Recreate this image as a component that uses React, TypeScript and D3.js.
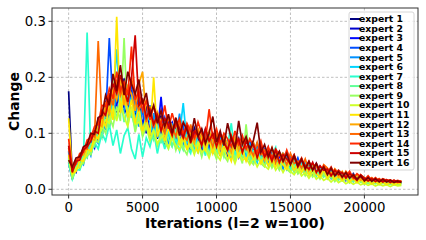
import * as d3 from "d3";

// logged every 250 iterations
const ITERATIONS = [
  0, 250, 500, 750, 1000, 1250, 1500, 1750, 2000, 2250,
  2500, 2750, 3000, 3250, 3500, 3750, 4000, 4250, 4500, 4750,
  5000, 5250, 5500, 5750, 6000, 6250, 6500, 6750, 7000, 7250,
  7500, 7750, 8000, 8250, 8500, 8750, 9000, 9250, 9500, 9750,
  10000, 10250, 10500, 10750, 11000, 11250, 11500, 11750, 12000, 12250,
  12500, 12750, 13000, 13250, 13500, 13750, 14000, 14250, 14500, 14750,
  15000, 15250, 15500, 15750, 16000, 16250, 16500, 16750, 17000, 17250,
  17500, 17750, 18000, 18250, 18500, 18750, 19000, 19250, 19500, 19750,
  20000, 20250, 20500, 20750, 21000, 21250, 21500, 21750, 22000, 22250, 22500,
];

const EXPERT_1 = [
  0.175, 0.022, 0.048, 0.038, 0.072, 0.058, 0.094, 0.078, 0.128, 0.092,
  0.158, 0.112, 0.185, 0.14, 0.15, 0.198, 0.142, 0.175, 0.128, 0.168,
  0.108, 0.148, 0.098, 0.128, 0.09, 0.132, 0.08, 0.118, 0.112, 0.076,
  0.114, 0.082, 0.104, 0.07, 0.11, 0.094, 0.066, 0.108, 0.078, 0.1,
  0.064, 0.096, 0.082, 0.058, 0.094, 0.07, 0.09, 0.056, 0.086, 0.074,
  0.052, 0.08, 0.06, 0.048, 0.072, 0.05, 0.066, 0.04, 0.064, 0.058,
  0.036, 0.06, 0.04, 0.054, 0.03, 0.048, 0.034, 0.044, 0.026, 0.04,
  0.024, 0.036, 0.02, 0.032, 0.022, 0.03, 0.016, 0.028, 0.018, 0.024,
  0.013, 0.021, 0.012, 0.018, 0.011, 0.017, 0.01, 0.016, 0.009, 0.014, 0.011,
];
const EXPERT_2 = [
  0.056, 0.036, 0.03, 0.058, 0.048, 0.082, 0.068, 0.1, 0.088, 0.142,
  0.118, 0.168, 0.138, 0.15, 0.192, 0.146, 0.13, 0.178, 0.12, 0.15,
  0.142, 0.1, 0.135, 0.094, 0.126, 0.118, 0.084, 0.122, 0.09, 0.116,
  0.08, 0.108, 0.098, 0.07, 0.104, 0.076, 0.102, 0.09, 0.064, 0.098,
  0.084, 0.06, 0.092, 0.078, 0.056, 0.09, 0.062, 0.086, 0.072, 0.052,
  0.082, 0.058, 0.07, 0.044, 0.074, 0.052, 0.064, 0.046, 0.06, 0.038,
  0.056, 0.042, 0.03, 0.052, 0.038, 0.046, 0.026, 0.044, 0.03, 0.038,
  0.034, 0.02, 0.034, 0.024, 0.03, 0.016, 0.028, 0.02, 0.024, 0.014,
  0.02, 0.014, 0.019, 0.012, 0.018, 0.011, 0.016, 0.012, 0.014, 0.01, 0.013,
];
const EXPERT_3 = [
  0.048, 0.018, 0.046, 0.042, 0.066, 0.062, 0.088, 0.074, 0.118, 0.104,
  0.152, 0.124, 0.176, 0.148, 0.138, 0.185, 0.158, 0.132, 0.17, 0.118,
  0.12, 0.14, 0.096, 0.13, 0.1, 0.165, 0.092, 0.112, 0.12, 0.082,
  0.11, 0.086, 0.112, 0.076, 0.098, 0.106, 0.07, 0.1, 0.088, 0.064,
  0.096, 0.07, 0.088, 0.064, 0.09, 0.08, 0.058, 0.088, 0.062, 0.08,
  0.07, 0.05, 0.076, 0.056, 0.044, 0.07, 0.048, 0.06, 0.04, 0.062,
  0.046, 0.034, 0.054, 0.036, 0.048, 0.028, 0.046, 0.03, 0.04, 0.024,
  0.036, 0.026, 0.022, 0.032, 0.018, 0.03, 0.02, 0.026, 0.014, 0.024,
  0.015, 0.02, 0.011, 0.019, 0.012, 0.017, 0.01, 0.016, 0.011, 0.014, 0.012,
];
const EXPERT_4 = [
  0.066, 0.028, 0.042, 0.06, 0.054, 0.08, 0.074, 0.104, 0.096, 0.134,
  0.124, 0.27, 0.15, 0.194, 0.142, 0.178, 0.15, 0.19, 0.136, 0.162,
  0.138, 0.112, 0.15, 0.104, 0.124, 0.096, 0.128, 0.108, 0.092, 0.124,
  0.1, 0.114, 0.078, 0.106, 0.094, 0.072, 0.108, 0.084, 0.098, 0.07,
  0.1, 0.076, 0.09, 0.062, 0.094, 0.084, 0.06, 0.092, 0.066, 0.086,
  0.06, 0.084, 0.056, 0.072, 0.05, 0.07, 0.046, 0.066, 0.054, 0.042,
  0.062, 0.04, 0.056, 0.034, 0.05, 0.038, 0.028, 0.046, 0.032, 0.04,
  0.026, 0.038, 0.022, 0.034, 0.028, 0.018, 0.03, 0.016, 0.026, 0.02,
  0.019, 0.014, 0.02, 0.013, 0.018, 0.012, 0.017, 0.011, 0.015, 0.012, 0.013,
];
const EXPERT_5 = [
  0.068, 0.026, 0.038, 0.052, 0.044, 0.076, 0.06, 0.092, 0.082, 0.124,
  0.106, 0.158, 0.126, 0.172, 0.15, 0.138, 0.182, 0.128, 0.16, 0.112,
  0.148, 0.118, 0.1, 0.136, 0.092, 0.12, 0.11, 0.08, 0.118, 0.094,
  0.135, 0.08, 0.096, 0.106, 0.072, 0.1, 0.08, 0.096, 0.066, 0.09,
  0.074, 0.092, 0.06, 0.086, 0.07, 0.09, 0.056, 0.082, 0.06, 0.076,
  0.05, 0.074, 0.062, 0.046, 0.068, 0.044, 0.064, 0.05, 0.036, 0.058,
  0.042, 0.054, 0.032, 0.05, 0.036, 0.028, 0.044, 0.026, 0.038, 0.03,
  0.022, 0.034, 0.026, 0.018, 0.03, 0.02, 0.026, 0.014, 0.022, 0.016,
  0.019, 0.012, 0.017, 0.013, 0.016, 0.011, 0.015, 0.01, 0.014, 0.011, 0.012,
];
const EXPERT_6 = [
  0.054, 0.03, 0.036, 0.054, 0.058, 0.066, 0.09, 0.082, 0.1, 0.116,
  0.14, 0.118, 0.162, 0.25, 0.14, 0.17, 0.132, 0.166, 0.124, 0.15,
  0.106, 0.132, 0.122, 0.094, 0.128, 0.09, 0.118, 0.096, 0.112, 0.078,
  0.098, 0.154, 0.082, 0.1, 0.068, 0.096, 0.088, 0.066, 0.098, 0.072,
  0.09, 0.06, 0.086, 0.074, 0.056, 0.088, 0.064, 0.078, 0.054, 0.08,
  0.064, 0.048, 0.072, 0.054, 0.06, 0.042, 0.066, 0.044, 0.056, 0.036,
  0.054, 0.038, 0.046, 0.03, 0.048, 0.032, 0.042, 0.024, 0.04, 0.028,
  0.034, 0.02, 0.03, 0.024, 0.018, 0.028, 0.016, 0.026, 0.02, 0.015,
  0.018, 0.013, 0.017, 0.011, 0.016, 0.012, 0.014, 0.01, 0.013, 0.011, 0.012,
];
const EXPERT_7 = [
  0.046, 0.018, 0.036, 0.034, 0.052, 0.28, 0.062, 0.084, 0.072, 0.1,
  0.086, 0.116, 0.078, 0.106, 0.064, 0.096, 0.11, 0.072, 0.054, 0.098,
  0.058, 0.092, 0.076, 0.104, 0.064, 0.096, 0.072, 0.106, 0.078, 0.09,
  0.068, 0.098, 0.076, 0.064, 0.094, 0.07, 0.086, 0.06, 0.092, 0.072,
  0.058, 0.086, 0.066, 0.078, 0.118, 0.06, 0.08, 0.056, 0.074, 0.062,
  0.048, 0.07, 0.054, 0.06, 0.042, 0.062, 0.075, 0.04, 0.054, 0.046,
  0.036, 0.05, 0.034, 0.044, 0.028, 0.04, 0.03, 0.034, 0.022, 0.034,
  0.024, 0.028, 0.018, 0.026, 0.02, 0.022, 0.014, 0.024, 0.016, 0.018,
  0.012, 0.017, 0.012, 0.015, 0.01, 0.015, 0.011, 0.013, 0.01, 0.012, 0.011,
];
const EXPERT_8 = [
  0.06, 0.024, 0.042, 0.04, 0.062, 0.056, 0.082, 0.076, 0.108, 0.092,
  0.138, 0.11, 0.15, 0.128, 0.164, 0.12, 0.146, 0.134, 0.11, 0.14,
  0.096, 0.118, 0.104, 0.088, 0.114, 0.082, 0.108, 0.09, 0.076, 0.104,
  0.084, 0.07, 0.098, 0.074, 0.09, 0.064, 0.094, 0.076, 0.062, 0.088,
  0.066, 0.082, 0.058, 0.08, 0.066, 0.052, 0.078, 0.06, 0.07, 0.05,
  0.068, 0.052, 0.058, 0.042, 0.062, 0.046, 0.05, 0.036, 0.056, 0.04,
  0.044, 0.03, 0.046, 0.032, 0.036, 0.026, 0.04, 0.024, 0.032, 0.022,
  0.03, 0.02, 0.024, 0.016, 0.026, 0.018, 0.02, 0.014, 0.022, 0.013,
  0.016, 0.011, 0.016, 0.01, 0.014, 0.011, 0.013, 0.009, 0.012, 0.01, 0.011,
];
const EXPERT_9 = [
  0.052, 0.02, 0.034, 0.046, 0.046, 0.068, 0.062, 0.088, 0.084, 0.114,
  0.1, 0.13, 0.112, 0.148, 0.122, 0.27, 0.116, 0.144, 0.102, 0.13,
  0.094, 0.112, 0.086, 0.104, 0.078, 0.098, 0.084, 0.072, 0.098, 0.07,
  0.092, 0.074, 0.062, 0.088, 0.066, 0.082, 0.058, 0.084, 0.064, 0.072,
  0.054, 0.078, 0.06, 0.05, 0.074, 0.056, 0.066, 0.046, 0.116, 0.052,
  0.044, 0.062, 0.046, 0.04, 0.056, 0.038, 0.05, 0.034, 0.048, 0.036,
  0.03, 0.044, 0.028, 0.038, 0.024, 0.034, 0.022, 0.03, 0.018, 0.028,
  0.018, 0.024, 0.014, 0.022, 0.015, 0.018, 0.011, 0.018, 0.012, 0.014,
  0.009, 0.013, 0.009, 0.012, 0.008, 0.011, 0.008, 0.01, 0.008, 0.009, 0.008,
];
const EXPERT_10 = [
  0.058, 0.026, 0.038, 0.038, 0.056, 0.06, 0.072, 0.084, 0.094, 0.108,
  0.124, 0.118, 0.146, 0.122, 0.158, 0.13, 0.112, 0.148, 0.116, 0.12,
  0.1, 0.114, 0.09, 0.106, 0.082, 0.092, 0.098, 0.074, 0.092, 0.078,
  0.07, 0.09, 0.072, 0.08, 0.062, 0.084, 0.066, 0.072, 0.056, 0.078,
  0.062, 0.052, 0.072, 0.054, 0.064, 0.046, 0.066, 0.052, 0.056, 0.044,
  0.056, 0.04, 0.052, 0.042, 0.036, 0.05, 0.034, 0.044, 0.03, 0.042,
  0.032, 0.026, 0.036, 0.024, 0.03, 0.02, 0.03, 0.018, 0.024, 0.016,
  0.02, 0.013, 0.02, 0.012, 0.016, 0.01, 0.014, 0.009, 0.013, 0.008,
  0.011, 0.007, 0.01, 0.006, 0.009, 0.006, 0.008, 0.005, 0.008, 0.006, 0.007,
];
const EXPERT_11 = [
  0.127, 0.028, 0.032, 0.052, 0.05, 0.072, 0.068, 0.096, 0.09, 0.126,
  0.112, 0.15, 0.124, 0.308, 0.136, 0.172, 0.128, 0.16, 0.118, 0.146,
  0.104, 0.128, 0.096, 0.2, 0.094, 0.116, 0.086, 0.11, 0.09, 0.127,
  0.078, 0.1, 0.07, 0.094, 0.08, 0.066, 0.096, 0.07, 0.088, 0.064,
  0.084, 0.06, 0.078, 0.066, 0.05, 0.08, 0.058, 0.072, 0.05, 0.07,
  0.054, 0.066, 0.046, 0.06, 0.042, 0.058, 0.04, 0.052, 0.044, 0.036,
  0.052, 0.034, 0.044, 0.03, 0.042, 0.026, 0.036, 0.028, 0.022, 0.034,
  0.02, 0.03, 0.018, 0.024, 0.016, 0.022, 0.014, 0.02, 0.012, 0.018,
  0.011, 0.016, 0.01, 0.014, 0.01, 0.013, 0.009, 0.012, 0.009, 0.011, 0.01,
];
const EXPERT_12 = [
  0.062, 0.034, 0.046, 0.058, 0.062, 0.076, 0.09, 0.088, 0.118, 0.112,
  0.152, 0.136, 0.178, 0.16, 0.196, 0.15, 0.184, 0.17, 0.14, 0.188,
  0.21, 0.124, 0.148, 0.112, 0.138, 0.12, 0.104, 0.132, 0.098, 0.122,
  0.116, 0.09, 0.112, 0.098, 0.082, 0.108, 0.094, 0.078, 0.104, 0.086,
  0.098, 0.072, 0.094, 0.082, 0.066, 0.092, 0.07, 0.088, 0.076, 0.062,
  0.084, 0.06, 0.074, 0.052, 0.072, 0.054, 0.066, 0.046, 0.064, 0.052,
  0.044, 0.06, 0.04, 0.054, 0.034, 0.048, 0.036, 0.044, 0.028, 0.04,
  0.034, 0.024, 0.036, 0.022, 0.032, 0.02, 0.028, 0.018, 0.026, 0.016,
  0.021, 0.015, 0.02, 0.014, 0.018, 0.013, 0.017, 0.012, 0.015, 0.013, 0.014,
];
const EXPERT_13 = [
  0.074, 0.032, 0.052, 0.056, 0.074, 0.072, 0.098, 0.094, 0.265, 0.126,
  0.14, 0.172, 0.15, 0.196, 0.168, 0.186, 0.15, 0.2, 0.158, 0.142,
  0.156, 0.12, 0.146, 0.11, 0.134, 0.116, 0.1, 0.128, 0.112, 0.094,
  0.122, 0.096, 0.088, 0.116, 0.09, 0.104, 0.08, 0.106, 0.094, 0.076,
  0.1, 0.082, 0.092, 0.07, 0.096, 0.074, 0.088, 0.066, 0.09, 0.072,
  0.06, 0.084, 0.062, 0.07, 0.054, 0.074, 0.048, 0.066, 0.058, 0.044,
  0.064, 0.046, 0.05, 0.038, 0.054, 0.034, 0.046, 0.04, 0.03, 0.044,
  0.038, 0.026, 0.036, 0.03, 0.02, 0.032, 0.024, 0.026, 0.018, 0.026,
  0.02, 0.016, 0.021, 0.014, 0.019, 0.014, 0.017, 0.013, 0.016, 0.012, 0.015,
];
const EXPERT_14 = [
  0.09, 0.036, 0.046, 0.064, 0.066, 0.088, 0.092, 0.112, 0.116, 0.15,
  0.148, 0.18, 0.162, 0.21, 0.176, 0.192, 0.168, 0.255, 0.16, 0.176,
  0.14, 0.158, 0.124, 0.148, 0.13, 0.116, 0.15, 0.108, 0.136, 0.112,
  0.126, 0.098, 0.118, 0.104, 0.092, 0.12, 0.1, 0.086, 0.143, 0.09,
  0.108, 0.082, 0.1, 0.09, 0.076, 0.104, 0.08, 0.096, 0.072, 0.09,
  0.078, 0.066, 0.086, 0.06, 0.076, 0.056, 0.072, 0.062, 0.05, 0.07,
  0.052, 0.062, 0.044, 0.056, 0.04, 0.05, 0.036, 0.046, 0.032, 0.042,
  0.03, 0.04, 0.026, 0.034, 0.028, 0.024, 0.032, 0.02, 0.028, 0.022,
  0.017, 0.024, 0.016, 0.021, 0.015, 0.019, 0.016, 0.017, 0.014, 0.016, 0.014,
];
const EXPERT_15 = [
  0.078, 0.03, 0.05, 0.052, 0.07, 0.076, 0.086, 0.104, 0.1, 0.14,
  0.132, 0.164, 0.188, 0.172, 0.204, 0.178, 0.156, 0.198, 0.275, 0.15,
  0.16, 0.128, 0.142, 0.116, 0.132, 0.104, 0.126, 0.114, 0.096, 0.124,
  0.108, 0.092, 0.114, 0.082, 0.104, 0.096, 0.078, 0.108, 0.086, 0.1,
  0.076, 0.098, 0.084, 0.07, 0.094, 0.078, 0.09, 0.066, 0.086, 0.074,
  0.08, 0.056, 0.076, 0.058, 0.068, 0.05, 0.07, 0.048, 0.062, 0.054,
  0.046, 0.058, 0.04, 0.052, 0.042, 0.036, 0.048, 0.03, 0.042, 0.034,
  0.036, 0.024, 0.034, 0.026, 0.03, 0.02, 0.028, 0.022, 0.016, 0.026,
  0.02, 0.015, 0.019, 0.014, 0.018, 0.013, 0.017, 0.012, 0.016, 0.013, 0.014,
];
const EXPERT_16 = [
  0.052, 0.04, 0.056, 0.058, 0.076, 0.08, 0.1, 0.098, 0.128, 0.132,
  0.168, 0.15, 0.206, 0.176, 0.222, 0.168, 0.21, 0.188, 0.17, 0.196,
  0.152, 0.172, 0.13, 0.15, 0.118, 0.14, 0.112, 0.134, 0.1, 0.128,
  0.096, 0.12, 0.106, 0.088, 0.127, 0.094, 0.108, 0.082, 0.1, 0.13,
  0.084, 0.104, 0.078, 0.118, 0.09, 0.072, 0.122, 0.08, 0.094, 0.07,
  0.088, 0.119, 0.066, 0.08, 0.058, 0.074, 0.056, 0.068, 0.05, 0.064,
  0.044, 0.06, 0.042, 0.054, 0.036, 0.05, 0.034, 0.046, 0.03, 0.04,
  0.026, 0.038, 0.024, 0.032, 0.022, 0.03, 0.02, 0.026, 0.018, 0.024,
  0.015, 0.021, 0.014, 0.019, 0.013, 0.018, 0.013, 0.016, 0.012, 0.015, 0.012,
];

const SERIES = [
  EXPERT_1, EXPERT_2, EXPERT_3, EXPERT_4, EXPERT_5, EXPERT_6, EXPERT_7, EXPERT_8,
  EXPERT_9, EXPERT_10, EXPERT_11, EXPERT_12, EXPERT_13, EXPERT_14, EXPERT_15, EXPERT_16,
];
const LABELS = SERIES.map((_, i) => `expert ${i + 1}`);
// jet colormap sampled at i/15
const COLORS = [
  "#000080", "#0000cd", "#0008ff", "#004dff", "#0091ff", "#00d4ff", "#29ffce", "#60ff97",
  "#97ff60", "#ceff29", "#ffe600", "#ffa700", "#ff6800", "#ff2900", "#cd0000", "#800000",
];
const X_TICKS = [0, 5000, 10000, 15000, 20000];
const Y_TICKS = [0.0, 0.1, 0.2, 0.3];

const W = 426;
const H = 240;
const PLOT = { left: 52, right: 418, top: 8, bottom: 195 };
const FONT = "DejaVu Sans, sans-serif";

export default function App() {
  const x = d3.scaleLinear().domain([-1125, 23625]).range([PLOT.left, PLOT.right]);
  const y = d3.scaleLinear().domain([-0.0102, 0.3238]).range([PLOT.bottom, PLOT.top]);
  const line = d3
    .line<number>()
    .defined((_, i) => i < ITERATIONS.length)
    .x((_, i) => x(ITERATIONS[i]))
    .y((d) => y(d));
  const fmt = d3.format(".1f");

  const legendX = 349;
  const legendY = 12;
  const rowH = 9.58;

  return (
    <svg
      width={W}
      height={H}
      style={{ position: "fixed", left: 0, top: 0, background: "#fff" }}
      fontFamily={FONT}
    >
      <defs>
        <clipPath id="plotClip">
          <rect x={PLOT.left} y={PLOT.top} width={PLOT.right - PLOT.left} height={PLOT.bottom - PLOT.top} />
        </clipPath>
      </defs>

      {/* grid */}
      {X_TICKS.map((t) => (
        <line key={"gx" + t} x1={x(t)} x2={x(t)} y1={PLOT.top} y2={PLOT.bottom}
          stroke="#b0b0b0" strokeWidth={0.8} strokeDasharray="2.5 2" />
      ))}
      {Y_TICKS.map((t) => (
        <line key={"gy" + t} x1={PLOT.left} x2={PLOT.right} y1={y(t)} y2={y(t)}
          stroke="#b0b0b0" strokeWidth={0.8} strokeDasharray="2.5 2" />
      ))}

      {/* series, expert 1 at the bottom */}
      <g clipPath="url(#plotClip)">
        {SERIES.map((s, i) => (
          <path key={LABELS[i]} d={line(s) ?? ""} fill="none" stroke={COLORS[i]}
            strokeWidth={1.7} strokeLinejoin="miter" />
        ))}
      </g>

      {/* spines */}
      <rect x={PLOT.left} y={PLOT.top} width={PLOT.right - PLOT.left} height={PLOT.bottom - PLOT.top}
        fill="none" stroke="#333" strokeWidth={1} />

      {/* ticks */}
      {X_TICKS.map((t) => (
        <g key={"xt" + t}>
          <line x1={x(t)} x2={x(t)} y1={PLOT.bottom} y2={PLOT.bottom + 3.5} stroke="#333" />
          <text x={x(t)} y={212} textAnchor="middle" fontSize={13.3} fill="#000">{t}</text>
        </g>
      ))}
      {Y_TICKS.map((t) => (
        <g key={"yt" + t}>
          <line x1={PLOT.left - 3.5} x2={PLOT.left} y1={y(t)} y2={y(t)} stroke="#333" />
          <text x={PLOT.left - 6} y={y(t)} dy="0.35em" textAnchor="end" fontSize={13.3} fill="#000">{fmt(t)}</text>
        </g>
      ))}

      <text x={(PLOT.left + PLOT.right) / 2} y={228} textAnchor="middle" fontSize={14}
        fontWeight="bold">Iterations (l=2 w=100)</text>
      <text transform={`translate(19,${(PLOT.top + PLOT.bottom) / 2}) rotate(-90)`} textAnchor="middle"
        fontSize={14} fontWeight="bold">Change</text>

      {/* legend */}
      <rect x={legendX} y={legendY} width={65} height={158} rx={2}
        fill="#fff" fillOpacity={0.8} stroke="#ccc" strokeWidth={0.8} />
      {LABELS.map((label, i) => {
        const ly = legendY + 7 + i * rowH;
        return (
          <g key={"lg" + label}>
            <line x1={legendX + 1} x2={legendX + 11} y1={ly} y2={ly} stroke={COLORS[i]} strokeWidth={2} />
            <text x={legendX + 10} y={ly} dy="0.35em" fontSize={9.3} fontWeight="bold" fill="#000">{label}</text>
          </g>
        );
      })}
    </svg>
  );
}
